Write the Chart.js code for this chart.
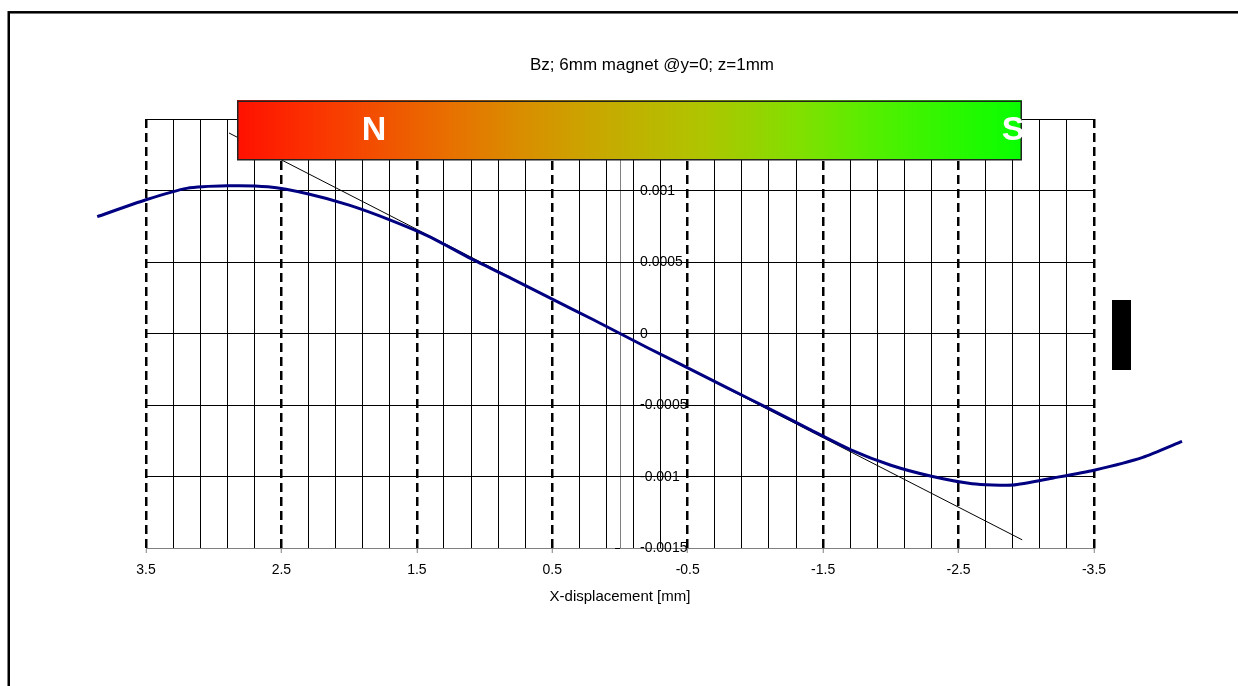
<!DOCTYPE html>
<html><head><meta charset="utf-8">
<script src="https://cdn.jsdelivr.net/npm/chart.js@4.4.1/dist/chart.umd.min.js"></script>
<style>html,body{margin:0;padding:0;background:#fff;overflow:hidden}canvas{display:block}</style>
</head><body>
<canvas id="c" width="1238" height="686"></canvas>
<script>
const chartTitle = 'Bz; 6mm magnet @y=0; z=1mm';
const xAxisTitle = 'X-displacement [mm]';

// Bz curve (x in mm, Bz in T)
const bzX = [3.86, 3.5, 3.2, 2.9, 2.6, 2.3, 2.0, 1.7, 1.4, 1.1, 0.8, 0.5, 0.2, 0, -0.2, -0.5, -0.8, -1.1, -1.4, -1.7, -2.0, -2.3, -2.6, -2.9, -3.2, -3.5, -3.86, -4.15];
const bzY = [0.000817, 0.000935, 0.001015, 0.001033, 0.001026, 0.000976, 0.000898, 0.000795, 0.000674, 0.000523, 0.000384, 0.00024, 0.0000977, 0, -0.0000977, -0.00024, -0.000384, -0.000525, -0.00067, -0.000812, -0.000921, -0.000998, -0.00105, -0.00106, -0.00101, -0.000956, -0.000866, -0.000754];

// linear approximation line
const fitX = [2.887, -2.97];
const fitY = [0.001402, -0.001443];

// axis ticks
const xGridValues = [3.5, 3.3, 3.1, 2.9, 2.7, 2.5, 2.3, 2.1, 1.9, 1.7, 1.5, 1.3, 1.1, 0.9, 0.7, 0.5, 0.3, 0.1, 0, -0.1, -0.3, -0.5, -0.7, -0.9, -1.1, -1.3, -1.5, -1.7, -1.9, -2.1, -2.3, -2.5, -2.7, -2.9, -3.1, -3.3, -3.5];
const xLabelValues = [3.5, 2.5, 1.5, 0.5, -0.5, -1.5, -2.5, -3.5];
const xTickLabels = ['3.5', '2.5', '1.5', '0.5', '-0.5', '-1.5', '-2.5', '-3.5'];
const yTickValues = [0.0015, 0.001, 0.0005, 0, -0.0005, -0.001, -0.0015];
const yTickLabels = ['0.0015', '0.001', '0.0005', '0', '-0.0005', '-0.001', '-0.0015'];

const FONT = '"Liberation Sans", Arial, sans-serif';
Chart.defaults.font.family = FONT;
Chart.defaults.font.size = 14;
Chart.defaults.color = '#000';

const near = (a, b) => Math.abs(a - b) < 1e-9;
const isMajor = v => xLabelValues.some(m => near(m, v));

const decor = {
  id: 'decor',
  beforeDraw(chart) {
    const ctx = chart.ctx;
    ctx.save();
    ctx.fillStyle = '#fff';
    ctx.fillRect(0, 0, chart.width, chart.height);
    ctx.restore();
  },
  afterDatasetsDraw(chart) {
    const {ctx, scales: {x, y}} = chart;
    const x0 = x.getPixelForValue(0);
    ctx.save();
    ctx.font = '14px ' + FONT;
    ctx.fillStyle = '#000';
    ctx.strokeStyle = '#000';
    ctx.lineWidth = 1;
    ctx.textAlign = 'left';
    ctx.textBaseline = 'middle';
    yTickValues.forEach((v, i) => {
      const py = y.getPixelForValue(v);
      if (near(v, -0.0015)) {
        ctx.beginPath(); ctx.moveTo(x0 - 5, Math.round(py) + 0.5); ctx.lineTo(x0, Math.round(py) + 0.5); ctx.stroke();
      }
      ctx.fillText(yTickLabels[i], x0 + 20, py + 0.5);
    });
    ctx.restore();
  },
  afterDraw(chart) {
    const ctx = chart.ctx;
    ctx.save();
    // chart title
    ctx.fillStyle = '#000';
    ctx.font = '17px ' + FONT;
    ctx.textAlign = 'center';
    ctx.textBaseline = 'alphabetic';
    ctx.fillText(chartTitle, 652, 70);
    // magnet
    const mx0 = 237, mx1 = 1022, my0 = 100, my1 = 160;
    const g = ctx.createLinearGradient(mx0, 0, mx1, 0);
    g.addColorStop(0, '#ff1000');
    g.addColorStop(0.1, '#fb3400');
    g.addColorStop(0.27, '#e87000');
    g.addColorStop(0.37, '#d89000');
    g.addColorStop(0.46, '#c8a800');
    g.addColorStop(0.59, '#b0c400');
    g.addColorStop(0.72, '#80e000');
    g.addColorStop(0.82, '#50f000');
    g.addColorStop(1, '#08ff00');
    ctx.fillStyle = g;
    ctx.fillRect(mx0, my0, mx1 - mx0, my1 - my0);
    ctx.strokeStyle = '#222';
    ctx.lineWidth = 1.5;
    ctx.strokeRect(mx0 + 0.75, my0 + 1.25, mx1 - mx0 - 1.5, my1 - my0 - 1.5);
    ctx.fillStyle = '#fff';
    ctx.font = 'bold 34px ' + FONT;
    ctx.textAlign = 'center';
    ctx.fillText('N', 374, 140);
    ctx.fillText('S', 1013, 140);
    // legend marker
    ctx.fillStyle = '#000';
    ctx.fillRect(1112, 300, 19, 70);
    // outer frame
    ctx.strokeStyle = '#000';
    ctx.lineWidth = 2.5;
    ctx.strokeRect(8.75, 12.3, 1400, 900);
    ctx.restore();
  }
};

new Chart(document.getElementById('c'), {
  type: 'scatter',
  data: {
    datasets: [
      {
        label: 'Bz',
        data: bzX.map((v, i) => ({x: v, y: bzY[i]})),
        showLine: true,
        borderColor: '#000080',
        backgroundColor: '#000080',
        borderWidth: 3,
        pointRadius: 0,
        tension: 0.2,
        clip: false
      },
      {
        label: 'fit',
        data: fitX.map((v, i) => ({x: v, y: fitY[i]})),
        showLine: true,
        borderColor: '#000',
        borderWidth: 1,
        pointRadius: 0,
        clip: false
      }
    ]
  },
  options: {
    responsive: false,
    animation: false,
    devicePixelRatio: 1,
    layout: {padding: {left: 146, right: 144, top: 119, bottom: 76}},
    plugins: {
      legend: {display: false},
      tooltip: {enabled: false},
      title: {display: false}
    },
    scales: {
      x: {
        type: 'linear',
        reverse: true,
        min: -3.5,
        max: 3.5,
        afterBuildTicks: s => { s.ticks = xGridValues.slice().sort((a, b) => a - b).map(v => ({value: v})); },
        ticks: {
          autoSkip: false,
          maxRotation: 0,
          padding: 10,
          color: '#000',
          font: {size: 14, lineHeight: 1.0},
          callback: v => { const i = xLabelValues.findIndex(m => near(m, v)); return i >= 0 ? xTickLabels[i] : ''; }
        },
        grid: {
          drawTicks: true,
          tickLength: 5,
          color: c => c.tick && near(c.tick.value, 0) ? '#808080' : '#000',
          lineWidth: c => c.tick && isMajor(c.tick.value) ? 2.5 : 1,
          tickColor: c => c.tick && isMajor(c.tick.value) ? '#808080' : 'rgba(0,0,0,0)',
          tickWidth: 1
        },
        border: {
          display: true,
          color: '#808080',
          width: 1,
          dash: c => c.tick && isMajor(c.tick.value) ? [9, 5] : []
        },
        title: {
          display: true,
          text: xAxisTitle,
          color: '#000',
          font: {size: 15},
          padding: {top: 1, bottom: 4}
        }
      },
      y: {
        type: 'linear',
        min: -0.0015,
        max: 0.0015,
        afterBuildTicks: s => { s.ticks = yTickValues.slice().sort((a, b) => a - b).map(v => ({value: v})); },
        ticks: {display: false},
        grid: {
          drawTicks: false,
          color: c => c.tick && near(c.tick.value, -0.0015) ? '#808080' : '#000',
          lineWidth: 1
        },
        border: {display: false}
      }
    }
  },
  plugins: [decor]
});
</script>
</body></html>
